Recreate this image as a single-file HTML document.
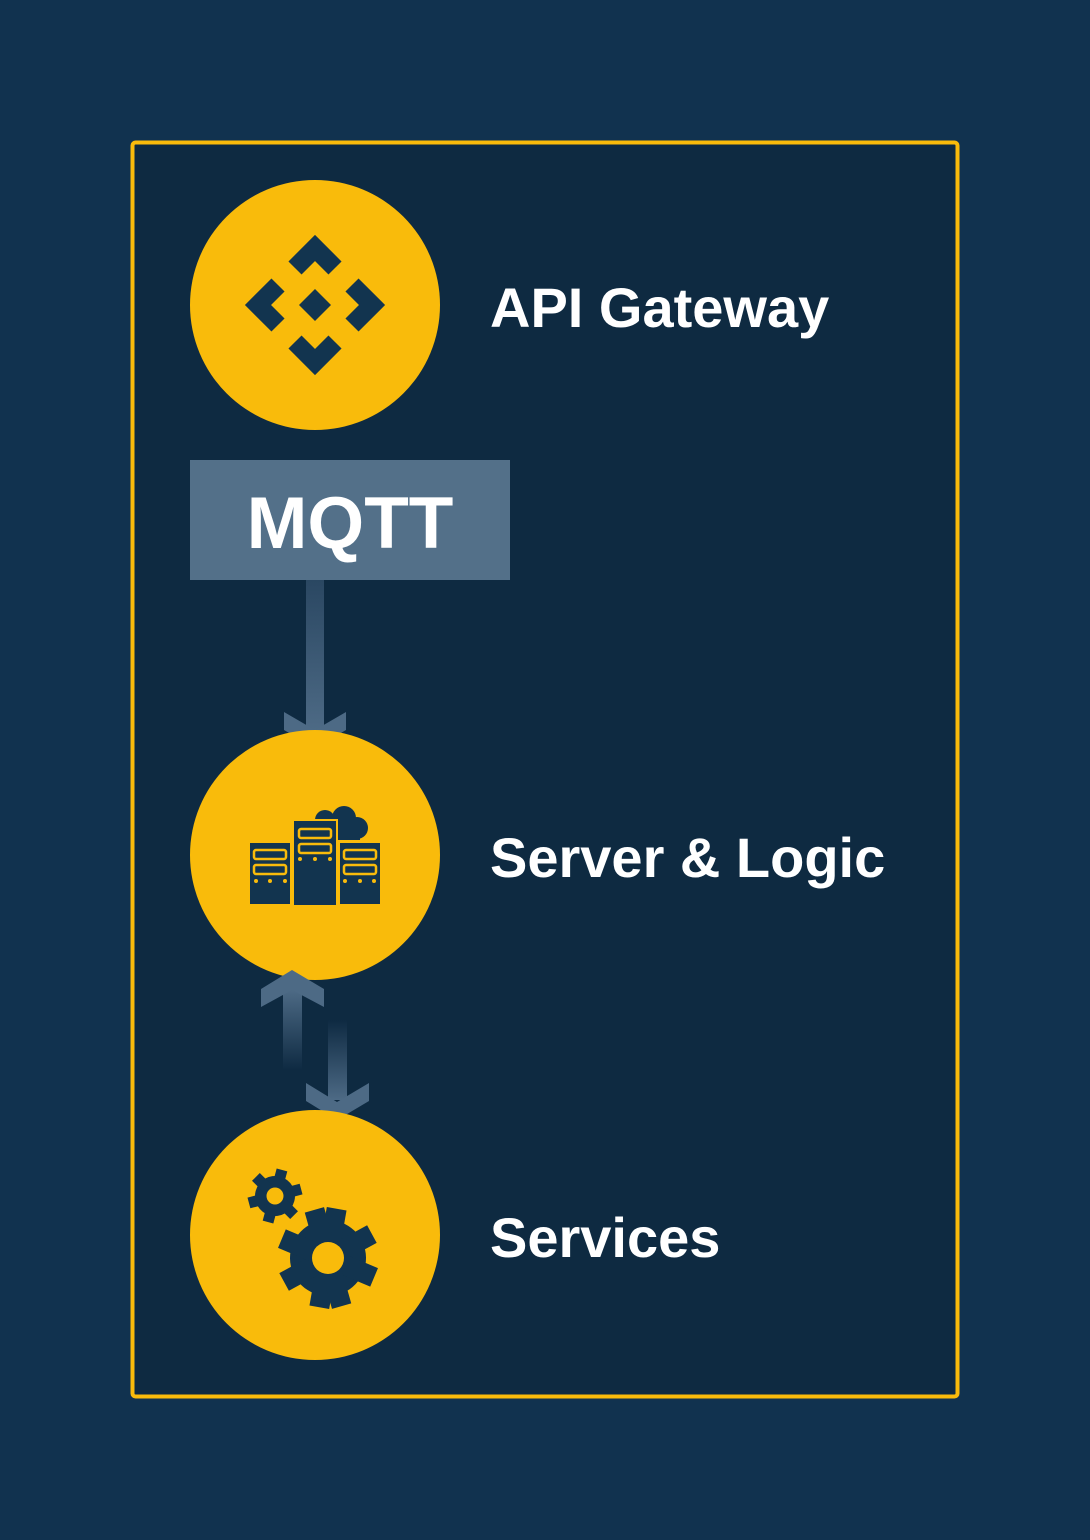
<!DOCTYPE html>
<html><head><meta charset="utf-8"><style>
html,body{margin:0;padding:0;background:#11324f;}
svg{display:block}
text{font-family:"Liberation Sans",sans-serif;font-weight:bold;fill:#fff}
</style></head><body>
<svg width="1090" height="1540" viewBox="0 0 1090 1540" xmlns="http://www.w3.org/2000/svg">
<defs>
<linearGradient id="g1" x1="0" y1="0" x2="0" y2="1"><stop offset="0" stop-color="#2a4762"/><stop offset="1" stop-color="#4d6a85"/></linearGradient>
<linearGradient id="gu" x1="0" y1="0" x2="0" y2="1"><stop offset="0" stop-color="#4d6a85"/><stop offset="1" stop-color="#0e2a42"/></linearGradient>
<linearGradient id="gd" x1="0" y1="0" x2="0" y2="1"><stop offset="0" stop-color="#0e2a42"/><stop offset="1" stop-color="#4d6a85"/></linearGradient>
</defs>
<rect width="1090" height="1540" fill="#11324f"/>
<rect x="132.5" y="142.5" width="825" height="1254" rx="3" fill="#0e2a41" stroke="#f9bb0b" stroke-width="4"/>

<!-- API Gateway -->
<circle cx="315" cy="305" r="125" fill="#f9bb0b"/>
<g fill="none" stroke="#12344f" stroke-width="18.5" stroke-linecap="butt" stroke-linejoin="miter" stroke-miterlimit="10">
<polyline points="295,268 315,248 335,268"/>
<polyline points="295,342 315,362 335,342"/>
<polyline points="278,285 258,305 278,325"/>
<polyline points="352,285 372,305 352,325"/>
</g>
<polygon points="315,289 331,305 315,321 299,305" fill="#12344f"/>
<text x="490" y="327" font-size="56">API Gateway</text>

<!-- MQTT -->
<rect x="190" y="460" width="320" height="120" fill="#537089"/>
<text x="350" y="548" font-size="73" text-anchor="middle">MQTT</text>

<!-- arrow 1 -->
<rect x="306" y="580" width="18" height="150" fill="url(#g1)"/>
<polygon points="284,712 315,730 346,712 346,730 315,748 284,730" fill="#4d6a85"/>

<!-- Server -->
<circle cx="315" cy="855" r="125" fill="#f9bb0b"/>
<g fill="#12344f">
<circle cx="325" cy="820" r="10"/><circle cx="344" cy="818" r="12"/><circle cx="357" cy="828" r="11"/>
<rect x="318" y="818" width="42" height="22"/>
<rect x="293" y="820" width="44" height="86" stroke="#f9bb0b" stroke-width="2"/>
<rect x="250" y="843" width="40" height="61"/>
<rect x="340" y="843" width="40" height="61"/>
</g>
<g fill="none" stroke="#f9bb0b" stroke-width="2.5">
<rect x="254" y="850" width="32" height="9" rx="2"/><rect x="254" y="865" width="32" height="9" rx="2"/>
<rect x="344" y="850" width="32" height="9" rx="2"/><rect x="344" y="865" width="32" height="9" rx="2"/>
<rect x="299" y="829" width="32" height="9" rx="2"/><rect x="299" y="844" width="32" height="9" rx="2"/>
</g>
<g fill="#f9bb0b">
<circle cx="256" cy="881" r="2"/><circle cx="270" cy="881" r="2"/><circle cx="285" cy="881" r="2"/>
<circle cx="345" cy="881" r="2"/><circle cx="360" cy="881" r="2"/><circle cx="374" cy="881" r="2"/>
<circle cx="300" cy="859" r="2"/><circle cx="315" cy="859" r="2"/><circle cx="330" cy="859" r="2"/>
</g>
<text x="490" y="877" font-size="56">Server &amp; Logic</text>

<!-- bidirectional arrows -->
<rect x="283" y="990" width="19" height="80" fill="url(#gu)"/>
<polygon points="261,989 292,970 324,989 324,1007 292,990 261,1007" fill="#4d6a85"/>
<rect x="328" y="1020" width="19" height="80" fill="url(#gd)"/>
<polygon points="306,1083 337,1102 369,1083 369,1101 337,1120 306,1101" fill="#4d6a85"/>

<!-- Services -->
<circle cx="315" cy="1235" r="125" fill="#f9bb0b"/>
<g fill="#12344f">
<g transform="translate(328,1258) rotate(10)">
<circle r="38"/>
<rect x="-10" y="-50" width="20" height="100"/>
<rect x="-10" y="-50" width="20" height="100" transform="rotate(51.4)"/>
<rect x="-10" y="-50" width="20" height="100" transform="rotate(102.8)"/>
<rect x="-10" y="-50" width="20" height="100" transform="rotate(154.2)"/>
</g>
<g transform="translate(275,1196) rotate(15)">
<circle r="20"/>
<rect x="-5.5" y="-27" width="11" height="54"/>
<rect x="-5.5" y="-27" width="11" height="54" transform="rotate(60)"/>
<rect x="-5.5" y="-27" width="11" height="54" transform="rotate(120)"/>
</g>
</g>
<circle cx="328" cy="1258" r="16" fill="#f9bb0b"/>
<circle cx="275" cy="1196" r="8.5" fill="#f9bb0b"/>
<text x="490" y="1257" font-size="56">Services</text>
</svg>
</body></html>
